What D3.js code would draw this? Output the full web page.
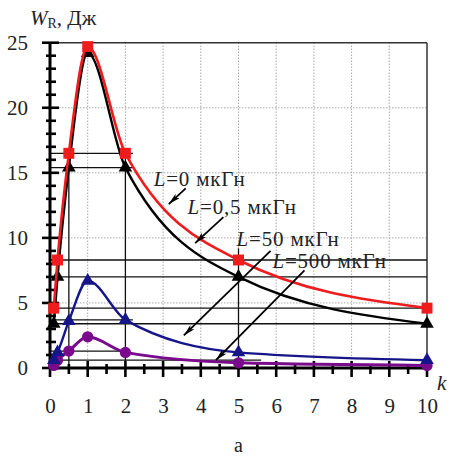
<!DOCTYPE html>
<html><head><meta charset="utf-8">
<script src="https://cdn.jsdelivr.net/npm/d3@7"></script>
<style>
body{margin:0;background:#fff;}
svg{display:block;}
svg text{font-family:"Liberation Serif","Times New Roman",Times,"DejaVu Serif","Noto Serif",serif !important;}
</style></head>
<body><svg id="c" width="449" height="459"></svg>
<script>
// ---- data ----
const kValues = [0.1, 0.2, 0.5, 1, 2, 5, 10];
const wL0   = [4.6, 8.3, 16.5, 24.7, 16.5, 8.3, 4.6];
const wL05  = [3.4, 7.0, 15.4, 24.2, 15.4, 7.0, 3.4];
const wL50  = [0.6, 1.2, 3.6, 6.7, 3.7, 1.2, 0.6];
const wL500 = [0.2, 0.6, 1.3, 2.4, 1.2, 0.4, 0.2];
const seriesNames = ["L=0 мкГн", "L=0,5 мкГн", "L=50 мкГн", "L=500 мкГн"];
const xTicks = [0,1,2,3,4,5,6,7,8,9,10];
const yTicks = [0,5,10,15,20,25];
// projection guide lines: [value, extent]
const hGuides = [[16.5,2.2],[15.4,2.2],[8.3,10],[7.0,10],[4.6,10],[3.4,10],[3.7,2.2],[1.3,2.1],[0.6,5.6]];
const vGuides = [[0.5,16.5],[2,16.5],[5,9.2]];
// label anchor [k, W] and arrow [fromK, fromW, toK, toW]
const labelPos = [[2.75,14.0],[3.65,11.8],[4.95,9.4],[5.9,7.7]];
const arrows = [[3.6,13.8,3.15,12.6],[4.6,11.6,3.85,9.6],[5.85,9.0,3.55,2.5],[6.75,7.5,4.4,0.6]];

// ---- drawing ----
const svg = d3.select("#c");
const x = d3.scaleLinear().domain([0,10]).range([50,427]);
const y = d3.scaleLinear().domain([0,25]).range([368,42.7]);

// dotted grid
const g = svg.append("g");
g.selectAll(".gx").data(d3.range(1,10)).join("line")
  .attr("x1",d=>x(d)).attr("x2",d=>x(d)).attr("y1",y(0)).attr("y2",y(25))
  .attr("stroke","#aaa").attr("stroke-width",1).attr("stroke-dasharray","1.5,1.5");
g.selectAll(".gy").data([5,10,15,20]).join("line")
  .attr("x1",x(0)).attr("x2",x(10)).attr("y1",d=>y(d)).attr("y2",d=>y(d))
  .attr("stroke","#aaa").attr("stroke-width",1).attr("stroke-dasharray","1.5,1.5");

// frame top/right
svg.append("line").attr("x1",x(0)).attr("x2",x(10)).attr("y1",y(25)).attr("y2",y(25)).attr("stroke","#333").attr("stroke-width",1.5);
svg.append("line").attr("x1",x(10)).attr("x2",x(10)).attr("y1",y(25)).attr("y2",y(0)).attr("stroke","#333").attr("stroke-width",1.5);

// guides
svg.selectAll(".hg").data(hGuides).join("line")
  .attr("x1",x(0)).attr("x2",d=>x(d[1])).attr("y1",d=>y(d[0])).attr("y2",d=>y(d[0]))
  .attr("stroke","#111").attr("stroke-width",1.3);
svg.selectAll(".vg").data(vGuides).join("line")
  .attr("x1",d=>x(d[0])).attr("x2",d=>x(d[0])).attr("y1",d=>y(d[1])).attr("y2",y(0))
  .attr("stroke","#111").attr("stroke-width",1.3);

// axes (custom thick ticks crossing axis)
const yAxis = d3.axisLeft(y).tickValues(yTicks).tickSize(0).tickPadding(22).tickFormat(d3.format("d"));
const ya = svg.append("g").attr("transform",`translate(${x(0)},0)`).call(yAxis);
ya.select(".domain").remove();
ya.attr("font-family",null);
ya.selectAll("text").attr("font-size",21).attr("fill","#222");
const xAxis = d3.axisBottom(x).tickValues(xTicks).tickSize(0).tickPadding(30).tickFormat(d3.format("d"));
const xa = svg.append("g").attr("transform",`translate(0,${y(0)})`).call(xAxis);
xa.select(".domain").remove();
xa.attr("font-family",null);
xa.selectAll("text").attr("font-size",21).attr("fill","#222");

svg.selectAll(".yt").data(d3.range(0,26)).join("line")
  .attr("x1",d=>d%5===0?x(0)-8:x(0)-4).attr("x2",d=>d%5===0?x(0)+9:x(0)+6)
  .attr("y1",d=>y(d)).attr("y2",d=>y(d)).attr("stroke","#000").attr("stroke-width",2.6);
svg.selectAll(".xt").data(d3.range(0,10.01,0.5)).join("line")
  .attr("y1",d=>d%1===0?y(0)-7:y(0)-4).attr("y2",d=>d%1===0?y(0)+9:y(0)+6)
  .attr("x1",d=>x(d)).attr("x2",d=>x(d)).attr("stroke","#000").attr("stroke-width",2.6);
svg.append("line").attr("x1",x(0)).attr("x2",x(10)).attr("y1",y(0)).attr("y2",y(0)).attr("stroke","#000").attr("stroke-width",3);
svg.append("line").attr("x1",x(0)).attr("x2",x(0)).attr("y1",y(0)).attr("y2",y(25)).attr("stroke","#000").attr("stroke-width",3);

// series
const series = [
  {vals:wL0,  color:"#ee1c1c", shape:d3.symbolSquare,   size:120, w:2.6},
  {vals:wL05, color:"#000000", shape:d3.symbolTriangle, size:80,  w:2.4},
  {vals:wL50, color:"#16168a", shape:d3.symbolTriangle, size:80,  w:2.4},
  {vals:wL500,color:"#7a0a8c", shape:d3.symbolCircle,   size:100, w:3}
];
const line = d3.line().x(d=>x(d[0])).y(d=>y(d[1])).curve(d3.curveMonotoneX);
series.slice().reverse().forEach(s=>{
  const pts = kValues.map((k,i)=>[k,s.vals[i]]);
  svg.append("path").datum(pts)
    .attr("d",line).attr("fill","none").attr("stroke",s.color).attr("stroke-width",s.w);
  svg.selectAll(null).data(pts).join("path")
    .attr("transform",d=>`translate(${x(d[0])},${y(d[1])})`)
    .attr("d",d3.symbol().type(s.shape).size(s.size)).attr("fill",s.color);
});

// arrows
const defs = svg.append("defs");
defs.append("marker").attr("id","ah").attr("viewBox","0 0 12 6").attr("refX",12).attr("refY",3)
  .attr("markerWidth",12).attr("markerHeight",6).attr("markerUnits","userSpaceOnUse").attr("orient","auto")
  .append("path").attr("d","M0,0 L12,3 L0,6 L3,3 Z").attr("fill","#000");
svg.selectAll(".ar").data(arrows).join("line")
  .attr("x1",d=>x(d[0])).attr("y1",d=>y(d[1])).attr("x2",d=>x(d[2])).attr("y2",d=>y(d[3]))
  .attr("stroke","#000").attr("stroke-width",1.8).attr("marker-end","url(#ah)");

// labels
const lab = svg.selectAll(".lb").data(seriesNames).join("text")
  .attr("x",(d,i)=>x(labelPos[i][0])).attr("y",(d,i)=>y(labelPos[i][1]))
  .attr("font-size",21).attr("letter-spacing",0.8).attr("fill","#222");
lab.append("tspan").attr("font-style","italic").text(d=>d.split("=")[0]);
lab.append("tspan").text(d=>"=" + d.split("=")[1]);

// axis titles
const yt = svg.append("text").attr("x",30).attr("y",25).attr("font-size",21).attr("fill","#222");
yt.append("tspan").attr("font-style","italic").text("W");
yt.append("tspan").attr("font-size",14).attr("dy",3).text("R");
yt.append("tspan").attr("dy",-3).text(", Дж");
svg.append("text").attr("x",437).attr("y",390).attr("font-size",21).attr("font-style","italic").attr("fill","#222").text("k");
svg.append("text").attr("x",x(5)).attr("y",452).attr("text-anchor","middle").attr("font-size",20).attr("fill","#222").text("а");
</script></body></html>
